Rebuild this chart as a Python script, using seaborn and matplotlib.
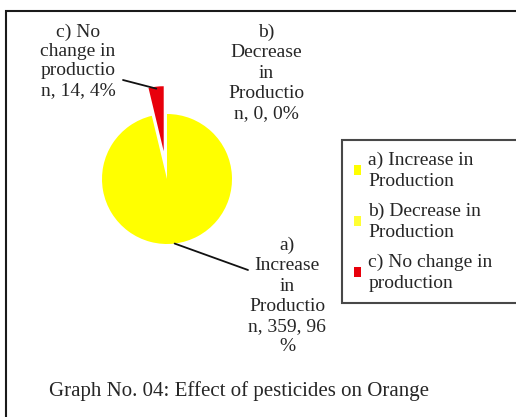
import numpy as np
import matplotlib
matplotlib.use("Agg")
import matplotlib.pyplot as plt
import seaborn as sns
from matplotlib.patches import Rectangle, Patch

# ---- data ----
categories = ["a) Increase in Production", "b) Decrease in Production", "c) No change in production"]
counts = [359, 0, 14]
percents = ["96", "0", "4"]
colors = ["#FFFF00", "#FFFF33", "#E8000B"]
legend_labels = ["a) Increase in\nProduction", "b) Decrease in\nProduction", "c) No change in\nproduction"]
slice_labels = [
    "a)\nIncrease\nin\nProductio\nn, 359, 96\n%",
    "b)\nDecrease\nin\nProductio\nn, 0, 0%",
    "c) No\nchange in\nproductio\nn, 14, 4%",
]
caption = "Graph No. 04: Effect of pesticides on Orange"

sns.set_theme(style="white")
plt.rcParams['font.family'] = ['Liberation Serif', 'DejaVu Serif']

W, H = 516, 417
fig = plt.figure(figsize=(W / 100, H / 100), dpi=100)
fig.patch.set_facecolor("white")

def px(x, y):
    """top-left pixel -> figure fraction"""
    return x / W, 1 - y / H

def fpx(x, y):
    """top-left pixel -> figure pixels (bottom-left origin)"""
    return x, H - y

# outer frame (right and bottom edges fall outside the picture)
fig.patches.append(Rectangle(px(6, 430), (530 - 6) / W, (430 - 11) / H,
                             transform=fig.transFigure, fill=False,
                             edgecolor="#1a1a1a", linewidth=1.5, clip_on=False))

cx, cy, r = 167, 179, 65
ax = fig.add_axes([(cx - r) / W, 1 - (cy + r) / H, 2 * r / W, 2 * r / H])
wedges, _ = ax.pie(counts, colors=colors, startangle=90, counterclock=False,
                   explode=[0, 0, 0.43], radius=1.0,
                   wedgeprops=dict(linewidth=0))
ax.set_xlim(-1, 1)
ax.set_ylim(-1, 1)
ax.set_axis_off()
for w in wedges:
    w.set_clip_on(False)

fs = 14

def wedge_point(w, frac=0.5, rr=1.0):
    ang = np.deg2rad(w.theta1 + (w.theta2 - w.theta1) * frac)
    c = w.center
    return (c[0] + rr * w.r * np.cos(ang), c[1] + rr * w.r * np.sin(ang))

line_kw = dict(arrowstyle="-", color="#111111", lw=1.3, shrinkA=0, shrinkB=0)

# c) label + leader
fig.text(*px(78, 61), slice_labels[2], ha="center", va="center",
         fontsize=fs, linespacing=1.18)
ax.annotate("", xy=wedge_point(wedges[2], 0.5, 0.97), xycoords="data",
            xytext=fpx(123, 80), textcoords="figure pixels",
            arrowprops=line_kw, annotation_clip=False)

# b) label (no leader)
fig.text(*px(266, 73), slice_labels[1], ha="center", va="center",
         fontsize=fs, linespacing=1.25)

# a) label + leader
fig.text(*px(287, 296), slice_labels[0], ha="center", va="center",
         fontsize=fs, linespacing=1.25)
ax.annotate("", xy=wedge_point(wedges[0], 0.5, 1.0), xycoords="data",
            xytext=fpx(248, 270), textcoords="figure pixels",
            arrowprops=line_kw, annotation_clip=False)

# legend
handles = [Patch(facecolor=c, edgecolor="none") for c in colors]
leg = fig.legend(handles, legend_labels, loc="upper left",
                 bbox_to_anchor=(342 / W, 1 - 301 / H, (530 - 342) / W, 161 / H),
                 mode="expand", fontsize=fs, frameon=True, fancybox=False,
                 handlelength=0.4, handleheight=0.4, handletextpad=0.35,
                 labelspacing=0.65, borderpad=0.6, borderaxespad=0)
leg.get_frame().set_edgecolor("#1a1a1a")
leg.get_frame().set_linewidth(1.5)
for t in leg.get_texts():
    t.set_linespacing(1.3)

fig.text(*px(49, 391), caption, ha="left", va="center", fontsize=15)

fig.savefig("out.png", dpi=100, facecolor="white")
